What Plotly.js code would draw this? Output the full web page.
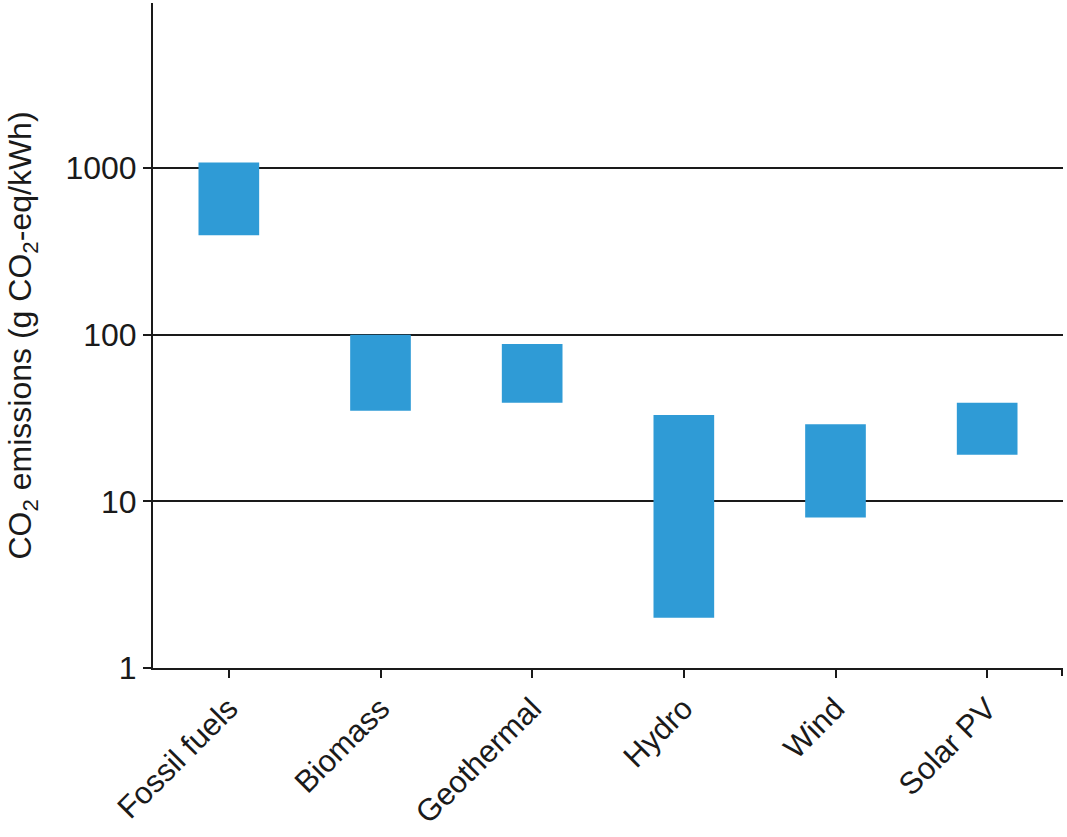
<!DOCTYPE html>
<html>
<head>
<meta charset="utf-8">
<script src="https://cdn.plot.ly/plotly-3.0.1.min.js"></script>
<style>html,body{margin:0;padding:0;background:#fff;}#chart{width:1067px;height:837px;}</style>
</head>
<body>
<div id="chart"></div>
<script>
const categories = ["Fossil fuels", "Biomass", "Geothermal", "Hydro", "Wind", "Solar PV"];
const lowValues = [395, 35, 39, 2, 8, 19];
const highValues = [1080, 100, 88, 33, 29, 39];
const yTickValues = [1, 10, 100, 1000];
const yTickLabels = ["1", "10", "100", "1000"];

const trace = {
  type: "bar",
  x: categories,
  base: lowValues,
  y: highValues.map((h, i) => h - lowValues[i]),
  width: 0.4,
  marker: {color: "#2f9bd6", line: {width: 0}},
  hoverinfo: "skip"
};

const layout = {
  width: 1067, height: 837,
  margin: {l: 153, r: 4, t: 3, b: 169},
  paper_bgcolor: "#fff", plot_bgcolor: "#fff",
  font: {family: "Liberation Sans, Arial, sans-serif", color: "#1a1a1a", size: 31},
  showlegend: false,
  xaxis: {
    type: "category",
    showline: true, linecolor: "#1a1a1a", linewidth: 2,
    ticks: "outside", ticklen: 8, tickwidth: 2, tickcolor: "#1a1a1a",
    tickangle: -45,
    tickfont: {size: 31},
    showgrid: false, zeroline: false,
    range: [-0.5, 5.5]
  },
  yaxis: {
    type: "log",
    range: [0, 3.99],
    showline: true, linecolor: "#1a1a1a", linewidth: 2,
    tickvals: yTickValues, ticktext: yTickLabels,
    ticks: "outside", ticklen: 8, tickwidth: 2, tickcolor: "#1a1a1a",
    showgrid: true, gridcolor: "#1a1a1a", gridwidth: 2,
    zeroline: false,
    tickfont: {size: 32},
    title: {text: "CO<sub>2</sub> emissions (g CO<sub>2</sub>-eq/kWh)", font: {size: 32}, standoff: 24}
  },
  shapes: [
    {type: "line", xref: "paper", yref: "paper", x0: 0.9989, x1: 0.9989, y0: -0.012, y1: 0, line: {color: "#1a1a1a", width: 2}}
  ]
};

Plotly.newPlot("chart", [trace], layout, {displayModeBar: false, staticPlot: true});
</script>
</body>
</html>
